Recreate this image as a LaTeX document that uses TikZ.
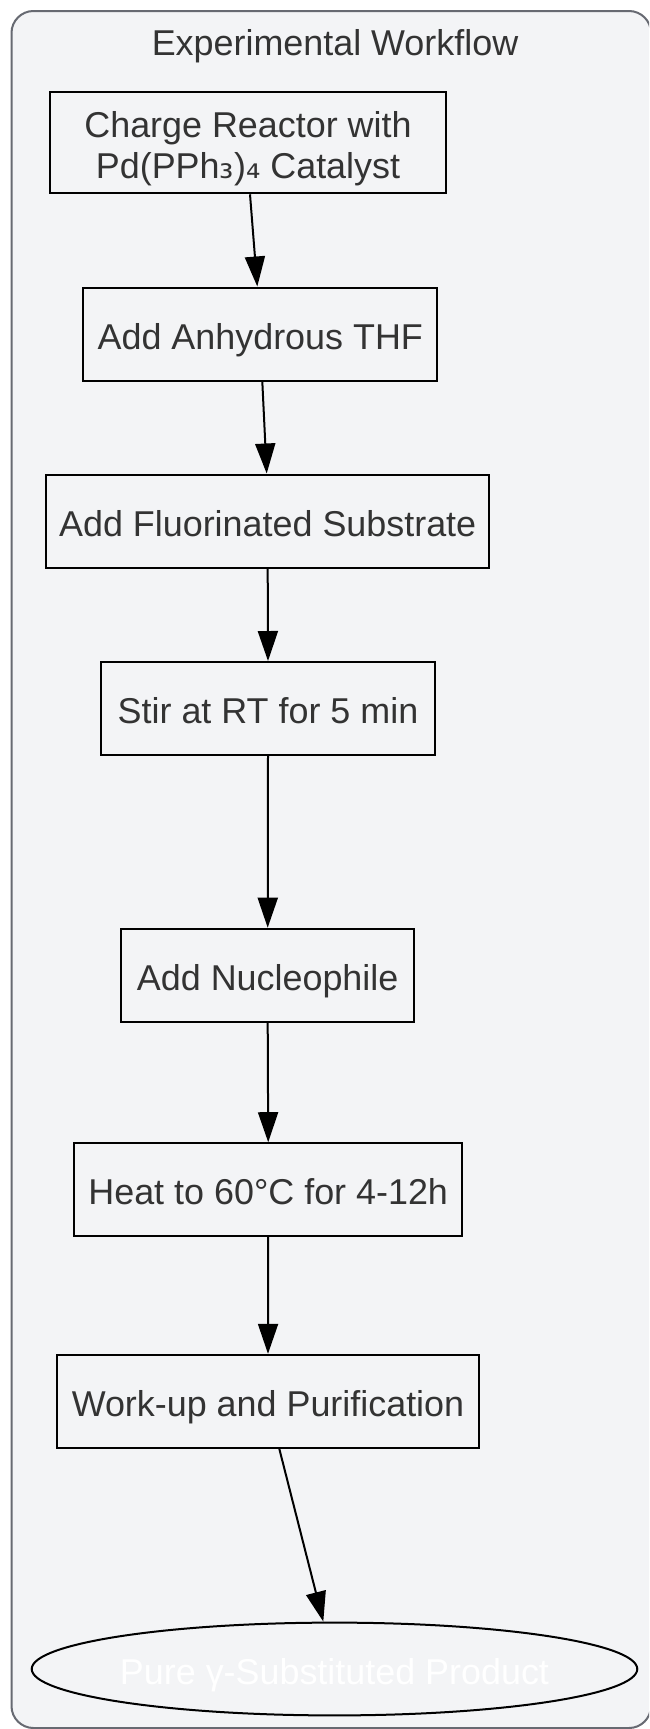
\documentclass[tikz,border=0pt]{standalone}
\usepackage{fontspec}
\setmainfont{Liberation Sans}
\newfontfamily\subfont{DejaVu Sans}
\usetikzlibrary{arrows.meta,shapes.geometric}
\definecolor{bgfill}{HTML}{F3F4F6}
\definecolor{framegray}{HTML}{676A72}
\definecolor{txt}{HTML}{333333}
\begin{document}
\begin{tikzpicture}[x=1pt,y=-1pt,
  lbl/.style={text=txt, font=\fontsize{35.9}{41}\selectfont},
  stepbox/.style={lbl, draw=black, line width=2pt, fill=bgfill,
    minimum width=#1, minimum height=93pt, inner sep=0pt,
    text height=30pt, text depth=0pt, align=center},
  endnode/.style={lbl, ellipse, draw=black, line width=2pt, fill=bgfill,
    minimum width=605.6pt, minimum height=92.8pt, inner sep=0pt,
    text height=30pt, text depth=0pt, text=white},
  arr/.style={line width=2pt, draw=black, -{Triangle[length=30pt,width=20pt]}}
]
\useasboundingbox (0,0) rectangle (649,1729);
\clip (0,0) rectangle (649,1729);
\fill[white] (0,0) rectangle (649,1729);
\draw[framegray, line width=2pt, fill=bgfill, rounded corners=22pt] (11.5,11) rectangle (651,1728);

\node[lbl, anchor=base] (title) at (335,55.7) {Experimental Workflow};

\node[stepbox=396pt, minimum height=101pt, text height=71pt] (n1) at (248,142.8)
  {Charge Reactor with\\Pd(PPh{\subfont ₃})\kern0pt{\subfont ₄} Catalyst};
\node[stepbox=354pt] (n2) at (260.3,334) {Add Anhydrous THF};
\node[stepbox=443pt] (n3) at (267.7,521) {Add Fluorinated Substrate};
\node[stepbox=334pt] (n4) at (268,708.5) {Stir at RT for 5 min};
\node[stepbox=293pt] (n5) at (267.7,975.2) {Add Nucleophile};
\node[stepbox=388.3pt] (n6) at (268.2,1189.7) {Heat to 60°C for 4-12h};
\node[stepbox=421.4pt] (n7) at (268,1401.3) {Work-up and Purification};
\node[endnode] (n8) at (334.5,1669) {\makebox[0pt]{Pure γ-Substituted Product}};

\draw[arr] ([xshift=2pt]n1.south) -- ([xshift=-3pt]n2.north);
\draw[arr] ([xshift=2pt]n2.south) -- ([xshift=-1pt]n3.north);
\draw[arr] (n3.south) -- (n4.north);
\draw[arr] (n4.south) -- (n5.north);
\draw[arr] (n5.south) -- (n6.north);
\draw[arr] (n6.south) -- (n7.north);
\draw[arr] ([xshift=11.3pt]n7.south) -- ([xshift=-11.2pt]n8.north);
\end{tikzpicture}
\end{document}
